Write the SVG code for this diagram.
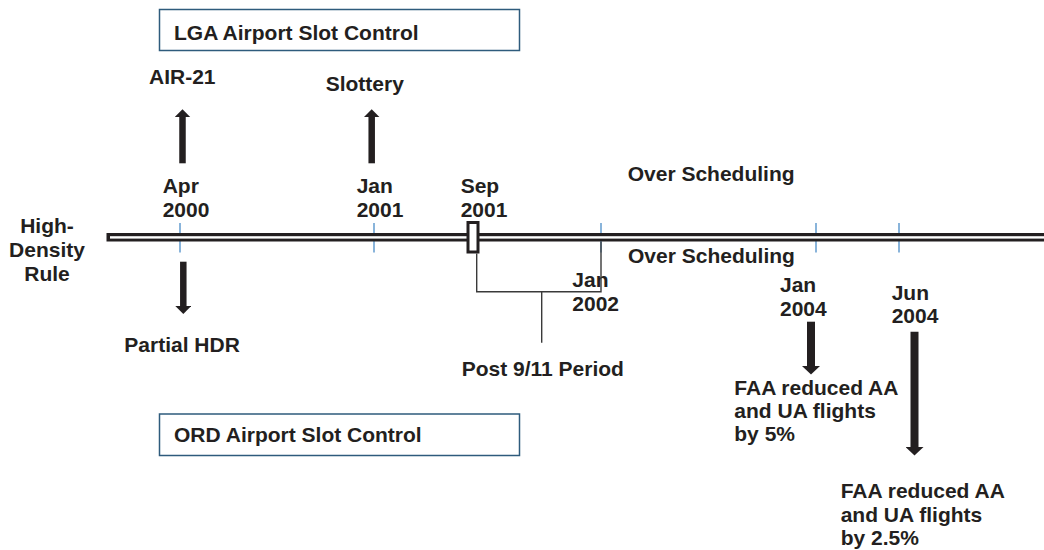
<svg xmlns="http://www.w3.org/2000/svg" width="1044" height="550" viewBox="0 0 1044 550">
<style>
  text { font-family: "Liberation Sans", Arial, Helvetica, sans-serif; font-weight: bold; font-size: 21px; fill: #231f20; }
  .box { fill: #ffffff; stroke: #2e5b7c; stroke-width: 1.5; }
  .tick { stroke: #4a8cc7; stroke-width: 1.3; }
  .arrowS { stroke: #231f20; stroke-width: 6.5; fill: none; }
  .arrowL { stroke: #231f20; stroke-width: 8; fill: none; }
  .bracket { stroke: #3a3a3a; stroke-width: 1.4; fill: none; }
</style>
<defs>
  <marker id="headS" markerUnits="userSpaceOnUse" viewBox="0 0 8 16" markerWidth="8" markerHeight="16" refX="0.5" refY="8" orient="auto">
    <path d="M0,0 L8,8 L0,16 Z" fill="#231f20"/>
  </marker>
  <marker id="headL" markerUnits="userSpaceOnUse" viewBox="0 0 8.5 18" markerWidth="8.5" markerHeight="18" refX="0.5" refY="9" orient="auto">
    <path d="M0,0 L8.5,9 L0,18 Z" fill="#231f20"/>
  </marker>
</defs>
<rect width="1044" height="550" fill="#ffffff"/>

<g id="lga-box">
  <rect class="box" x="159.5" y="9.5" width="360" height="41"/>
  <text x="174" y="40">LGA Airport Slot Control</text>
</g>
<g id="ord-box">
  <rect class="box" x="159.5" y="414" width="360" height="41.5"/>
  <text x="174" y="441.5">ORD Airport Slot Control</text>
</g>

<g id="timeline">
  <line class="tick" x1="180" y1="223" x2="180" y2="252.5"/>
  <line class="tick" x1="374" y1="223" x2="374" y2="252.5"/>
  <line class="tick" x1="601" y1="223" x2="601" y2="252.5"/>
  <line class="tick" x1="816" y1="223" x2="816" y2="252.5"/>
  <line class="tick" x1="899" y1="223" x2="899" y2="252.5"/>
  <rect x="106.5" y="233" width="937.5" height="8.5" fill="#231f20"/>
  <rect x="110" y="236.2" width="934" height="2.4" fill="#ffffff"/>
  <rect x="468" y="222.5" width="10" height="29.5" fill="#ffffff" stroke="#231f20" stroke-width="3"/>
</g>

<g id="hdr-label">
  <text x="47" y="232.7" text-anchor="middle">High-</text>
  <text x="47" y="256.7" text-anchor="middle">Density</text>
  <text x="47" y="280.5" text-anchor="middle">Rule</text>
</g>

<g id="apr2000"><text x="162.7" y="193.3">Apr</text><text x="162.7" y="216.7">2000</text></g>
<g id="jan2001"><text x="356.7" y="193.3">Jan</text><text x="356.7" y="216.7">2001</text></g>
<g id="sep2001"><text x="460.7" y="193.3">Sep</text><text x="460.7" y="216.7">2001</text></g>
<g id="jan2002"><text x="572.3" y="286.7">Jan</text><text x="572.3" y="310.7">2002</text></g>
<g id="jan2004"><text x="780" y="291.7">Jan</text><text x="780" y="315.7">2004</text></g>
<g id="jun2004"><text x="891.7" y="300">Jun</text><text x="891.7" y="323.3">2004</text></g>

<g id="air21"><text x="149" y="84.3">AIR-21</text></g>
<g id="slottery"><text x="325.7" y="90.7">Slottery</text></g>
<g id="partial-hdr"><text x="124.3" y="351.7">Partial HDR</text></g>
<g id="over-sched-top"><text x="627.7" y="180.7">Over Scheduling</text></g>
<g id="over-sched-bottom"><text x="628" y="262.7">Over Scheduling</text></g>
<g id="post911"><text x="461.7" y="376">Post 9/11 Period</text></g>
<g id="faa5">
  <text x="734.3" y="395">FAA reduced AA</text>
  <text x="734.3" y="418.3">and UA flights</text>
  <text x="734.3" y="441">by 5%</text>
</g>
<g id="faa25">
  <text x="840.7" y="498.3">FAA reduced AA</text>
  <text x="840.7" y="521.7">and UA flights</text>
  <text x="840.7" y="544.5">by 2.5%</text>
</g>

<g id="connectors">
  <line class="arrowS" x1="182.5" y1="163.3" x2="182.5" y2="116.8" marker-end="url(#headS)"/>
  <line class="arrowS" x1="371.7" y1="163.3" x2="371.7" y2="116.8" marker-end="url(#headS)"/>
  <line class="arrowS" x1="183.3" y1="261.7" x2="183.3" y2="306.5" marker-end="url(#headS)"/>
  <line class="arrowL" x1="811" y1="321.7" x2="811" y2="366.5" marker-end="url(#headL)"/>
  <line class="arrowL" x1="914.5" y1="331.7" x2="914.5" y2="447.5" marker-end="url(#headL)"/>
  <polyline class="bracket" points="476.7,253.5 476.7,291.7 601,291.7 601,241.5"/>
  <line class="bracket" x1="541.7" y1="291.7" x2="541.7" y2="342.7"/>
</g>
</svg>
